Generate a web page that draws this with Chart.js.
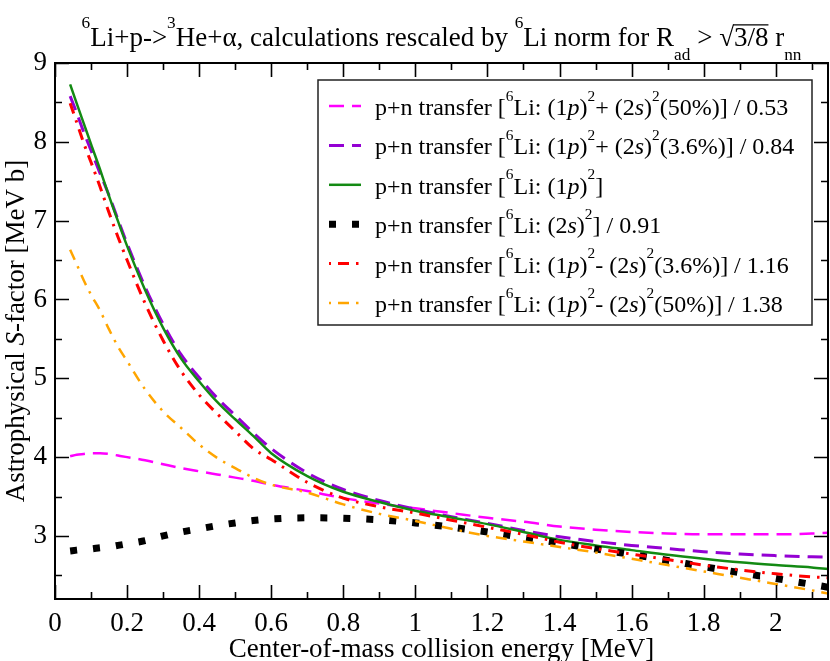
<!DOCTYPE html>
<html><head><meta charset="utf-8">
<script src="https://cdn.jsdelivr.net/npm/chart.js@4.4.0/dist/chart.umd.min.js"></script>
<style>html,body{margin:0;padding:0;background:#fff;}canvas{display:block;}</style>
</head><body>
<canvas id="c" width="830" height="661" style="width:830px;height:661px"></canvas>
<script>
// ---- data ----
const energy = [0.042,0.06,0.08,0.1,0.125,0.15,0.175,0.2,0.25,0.3,0.35,0.4,0.45,0.5,0.55,0.6,0.7,0.8,0.9,1.0,1.1,1.2,1.3,1.4,1.5,1.6,1.7,1.8,1.9,2.0,2.1,2.145];
const sPlus50   = [4.01,4.03,4.04,4.05,4.05,4.04,4.02,4.00,3.96,3.91,3.86,3.82,3.78,3.74,3.70,3.65,3.57,3.48,3.41,3.35,3.29,3.23,3.18,3.12,3.08,3.05,3.03,3.02,3.02,3.02,3.03,3.04];
const sPlus36   = [8.58,8.37,8.12,7.89,7.60,7.32,7.01,6.71,6.16,5.69,5.30,5.01,4.75,4.53,4.31,4.11,3.80,3.59,3.45,3.34,3.245,3.16,3.07,2.99,2.93,2.88,2.84,2.80,2.77,2.75,2.735,2.73];
const sPure1p   = [8.73,8.49,8.23,7.97,7.65,7.31,6.99,6.68,6.12,5.64,5.25,4.96,4.70,4.48,4.27,4.05,3.76,3.56,3.43,3.32,3.235,3.15,3.05,2.95,2.88,2.82,2.76,2.71,2.665,2.63,2.60,2.58];
const sPure2s   = [2.81,2.82,2.83,2.835,2.85,2.86,2.88,2.90,2.94,3.00,3.05,3.09,3.13,3.165,3.195,3.215,3.23,3.225,3.205,3.165,3.11,3.05,2.98,2.91,2.835,2.765,2.69,2.61,2.535,2.46,2.385,2.35];
const sMinus36  = [8.49,8.25,7.98,7.74,7.43,7.10,6.79,6.50,5.95,5.48,5.09,4.79,4.55,4.33,4.11,3.97,3.68,3.48,3.37,3.29,3.20,3.11,3.02,2.92,2.84,2.77,2.70,2.63,2.57,2.52,2.48,2.47];
const sMinus50  = [6.63,6.45,6.24,6.06,5.86,5.62,5.40,5.22,4.86,4.58,4.37,4.16,3.99,3.86,3.74,3.65,3.55,3.40,3.28,3.19,3.09,3.00,2.93,2.86,2.79,2.71,2.63,2.55,2.47,2.39,2.31,2.27];
const xTickValues = [0,0.2,0.4,0.6,0.8,1,1.2,1.4,1.6,1.8,2];
const yTickValues = [3,4,5,6,7,8,9];
const xMin = 0, xMax = 2.145, yMin = 2.2, yMax = 9;

const FONT = '"Liberation Serif","Times New Roman",serif';

const seriesDefs = [
  {values:sPlus50,  color:'#ff00ff', width:2.5, dash:[15,8], order:6,
   label:[{t:'p+n transfer ['},{t:'6',s:'sup'},{t:'Li: (1'},{t:'p',i:1},{t:')'},{t:'2',s:'sup'},{t:'+ (2'},{t:'s',i:1},{t:')'},{t:'2',s:'sup'},{t:'(50%)] / 0.53'}]},
  {values:sPlus36,  color:'#9400d3', width:3, dash:[15,8], order:5,
   label:[{t:'p+n transfer ['},{t:'6',s:'sup'},{t:'Li: (1'},{t:'p',i:1},{t:')'},{t:'2',s:'sup'},{t:'+ (2'},{t:'s',i:1},{t:')'},{t:'2',s:'sup'},{t:'(3.6%)] / 0.84'}]},
  {values:sPure1p,  color:'#138a13', width:2.5, dash:[], order:4,
   label:[{t:'p+n transfer ['},{t:'6',s:'sup'},{t:'Li: (1'},{t:'p',i:1},{t:')'},{t:'2',s:'sup'},{t:']'}]},
  {values:sPure2s,  color:'#000000', width:7, dash:[7,16], order:3,
   label:[{t:'p+n transfer ['},{t:'6',s:'sup'},{t:'Li: (2'},{t:'s',i:1},{t:')'},{t:'2',s:'sup'},{t:'] / 0.91'}]},
  {values:sMinus36, color:'#ff0000', width:3, dash:[11,7,2.5,7], order:2,
   label:[{t:'p+n transfer ['},{t:'6',s:'sup'},{t:'Li: (1'},{t:'p',i:1},{t:')'},{t:'2',s:'sup'},{t:'- (2'},{t:'s',i:1},{t:')'},{t:'2',s:'sup'},{t:'(3.6%)] / 1.16'}]},
  {values:sMinus50, color:'#ffa500', width:2.5, dash:[11,7,2.5,7], order:1,
   label:[{t:'p+n transfer ['},{t:'6',s:'sup'},{t:'Li: (1'},{t:'p',i:1},{t:')'},{t:'2',s:'sup'},{t:'- (2'},{t:'s',i:1},{t:')'},{t:'2',s:'sup'},{t:'(50%)] / 1.38'}]}
];

const titleSegs = [{t:'6',s:'sup'},{t:'Li+p->'},{t:'3',s:'sup'},{t:'He+α, calculations rescaled by '},{t:'6',s:'sup'},{t:'Li norm for R'},{t:'ad',s:'sub'},{t:' > √'},{t:'3/8',o:1},{t:' r'},{t:'nn',s:'sub'}];
const yTitleSegs = [{t:'Astrophysical '},{t:'S',i:1},{t:'-factor [MeV b]'}];

function segFont(seg, size){
  const sz = seg.s ? size*0.64 : size;
  return (seg.i ? 'italic ' : '') + sz + 'px ' + FONT;
}
function richWidth(ctx, segs, size){
  let w = 0;
  for (const sg of segs){ ctx.font = segFont(sg,size); w += ctx.measureText(sg.t).width; }
  return w;
}
function drawRich(ctx, segs, x, y, size, align, supRaise, subDrop){
  const w = richWidth(ctx, segs, size);
  let cx = align === 'center' ? x - w/2 : x;
  ctx.textAlign = 'left'; ctx.textBaseline = 'alphabetic';
  for (const sg of segs){
    ctx.font = segFont(sg,size);
    let dy = 0;
    if (sg.s === 'sup') dy = -size*supRaise;
    if (sg.s === 'sub') dy = size*subDrop;
    ctx.fillText(sg.t, cx, y + dy);
    const tw = ctx.measureText(sg.t).width;
    if (sg.o){
      ctx.save(); ctx.lineWidth = 1.2; ctx.strokeStyle = ctx.fillStyle;
      ctx.beginPath(); ctx.moveTo(cx-1, y - size*0.78); ctx.lineTo(cx+tw, y - size*0.78); ctx.stroke(); ctx.restore();
    }
    cx += tw;
  }
}

const decor = {
  id:'decor',
  afterDraw(chart){
    const ctx = chart.ctx, a = chart.chartArea, xs = chart.scales.x, ys = chart.scales.y;
    ctx.save();
    ctx.strokeStyle = '#000'; ctx.fillStyle = '#000'; ctx.lineWidth = 1.6;
    // inward ticks
    ctx.beginPath();
    for (let k = 0; k <= 21; k++){
      const v = k/10; const px = Math.round(xs.getPixelForValue(v)) + 0.5;
      const len = (k % 2 === 0) ? 14 : 7;
      ctx.moveTo(px, a.bottom); ctx.lineTo(px, a.bottom - len);
      ctx.moveTo(px, a.top); ctx.lineTo(px, a.top + len);
    }
    for (let k = 5; k <= 18; k++){
      const v = k/2; const py = Math.round(ys.getPixelForValue(v)) + 0.5;
      const len = (k % 2 === 0) ? 14 : 7;
      ctx.moveTo(a.left, py); ctx.lineTo(a.left + len, py);
      ctx.moveTo(a.right, py); ctx.lineTo(a.right - len, py);
    }
    ctx.stroke();
    // frame
    ctx.lineWidth = 2;
    ctx.strokeRect(a.left, a.top, a.right - a.left, a.bottom - a.top);
    // title
    drawRich(ctx, titleSegs, (a.left + a.right)/2, 46, 27, 'center', 0.68, 0.5);
    // y title
    ctx.save();
    ctx.translate(24, (a.top + a.bottom)/2);
    ctx.rotate(-Math.PI/2);
    drawRich(ctx, yTitleSegs, 0, 0, 27, 'center', 0, 0);
    ctx.restore();
    // legend
    const bx = 318, by = 80, bw = 494, bh = 245;
    ctx.fillStyle = '#fff'; ctx.fillRect(bx, by, bw, bh);
    ctx.lineWidth = 1.5; ctx.strokeStyle = '#222'; ctx.strokeRect(bx, by, bw, bh);
    seriesDefs.forEach((d, i) => {
      const cy = 106 + i*39.4;
      ctx.save();
      ctx.strokeStyle = d.color; ctx.lineWidth = d.width; ctx.setLineDash(d.dash); ctx.lineCap = 'butt';
      ctx.beginPath();
      if (d.dash.length === 4){ ctx.lineDashOffset = 18.5; }
      ctx.moveTo(329, cy); ctx.lineTo(361, cy); ctx.stroke();
      ctx.restore();
      ctx.fillStyle = '#000';
      drawRich(ctx, d.label, 375, cy + 9, 24, 'left', 0.6, 0.3);
    });
    ctx.restore();
  }
};

const datasets = seriesDefs.map(d => ({
  data: energy.map((e, j) => ({x:e, y:d.values[j]})),
  borderColor: d.color, borderWidth: d.width, borderDash: d.dash,
  borderCapStyle:'butt', fill:false, pointRadius:0, cubicInterpolationMode:'monotone', order:d.order
}));

new Chart(document.getElementById('c'), {
  type:'line',
  data:{datasets},
  options:{
    responsive:false, animation:false, devicePixelRatio:1,
    layout:{padding:{top:63, right:2, left:0, bottom:0}},
    plugins:{legend:{display:false}, title:{display:false}, tooltip:{enabled:false}},
    scales:{
      x:{type:'linear', min:xMin, max:xMax,
         afterBuildTicks:s=>{s.ticks = xTickValues.map(v=>({value:v}));},
         afterFit:s=>{s.height = 62;},
         grid:{display:false, drawTicks:false}, border:{display:false},
         ticks:{color:'#000', font:{family:FONT, size:27}, padding:9, maxRotation:0, autoSkip:false,
                callback:v=>String(Math.round(v*10)/10)},
         title:{display:true, text:'Center-of-mass collision energy [MeV]', color:'#000', font:{family:FONT, size:27}, padding:{top:0,bottom:-5}}},
      y:{type:'linear', min:yMin, max:yMax,
         afterBuildTicks:s=>{s.ticks = yTickValues.map(v=>({value:v}));},
         afterFit:s=>{s.width = 55;},
         grid:{display:false, drawTicks:false}, border:{display:false},
         ticks:{color:'#000', font:{family:FONT, size:27}, padding:8, autoSkip:false,
                callback:v=>String(v)}}
    }
  },
  plugins:[decor]
});
</script>
</body></html>
